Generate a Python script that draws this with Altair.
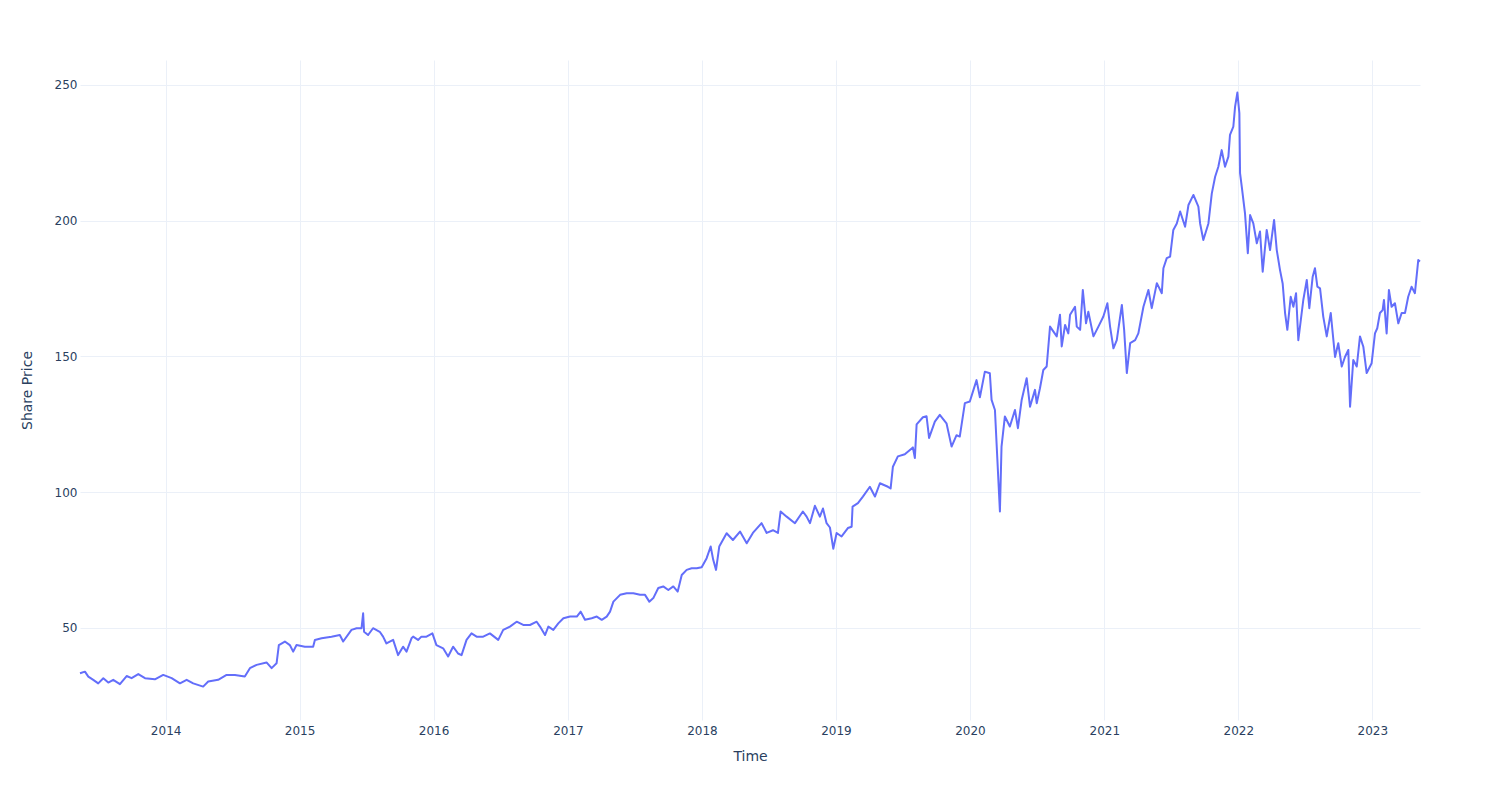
import altair as alt
import pandas as pd

# decimal-year positions
year_frac = [
    2013.361, 2013.398, 2013.423, 2013.460, 2013.497, 2013.535, 2013.572, 2013.609, 2013.659, 2013.709,
    2013.746, 2013.796, 2013.846, 2013.920, 2013.982, 2014.045, 2014.107, 2014.157, 2014.206, 2014.280,
    2014.318, 2014.392, 2014.455, 2014.517, 2014.591, 2014.629, 2014.679, 2014.753, 2014.791, 2014.828,
    2014.845, 2014.890, 2014.927, 2014.952, 2014.977, 2015.039, 2015.101, 2015.114, 2015.164, 2015.238,
    2015.300, 2015.325, 2015.387, 2015.425, 2015.462, 2015.474, 2015.481, 2015.511, 2015.548, 2015.598,
    2015.623, 2015.648, 2015.698, 2015.735, 2015.772, 2015.798, 2015.835, 2015.847, 2015.884, 2015.909,
    2015.947, 2015.991, 2016.021, 2016.071, 2016.108, 2016.145, 2016.182, 2016.208, 2016.245, 2016.282,
    2016.320, 2016.369, 2016.419, 2016.481, 2016.518, 2016.568, 2016.618, 2016.667, 2016.717, 2016.767,
    2016.792, 2016.829, 2016.854, 2016.891, 2016.928, 2016.966, 2017.016, 2017.066, 2017.095, 2017.127,
    2017.177, 2017.215, 2017.252, 2017.289, 2017.314, 2017.339, 2017.389, 2017.438, 2017.488, 2017.538,
    2017.575, 2017.607, 2017.637, 2017.674, 2017.711, 2017.749, 2017.786, 2017.819, 2017.849, 2017.886,
    2017.923, 2017.961, 2017.998, 2018.035, 2018.065, 2018.084, 2018.105, 2018.129, 2018.184, 2018.231,
    2018.284, 2018.334, 2018.380, 2018.445, 2018.483, 2018.530, 2018.567, 2018.587, 2018.632, 2018.694,
    2018.753, 2018.781, 2018.806, 2018.843, 2018.880, 2018.903, 2018.930, 2018.955, 2018.980, 2019.005,
    2019.042, 2019.089, 2019.117, 2019.124, 2019.164, 2019.201, 2019.253, 2019.291, 2019.328, 2019.388,
    2019.408, 2019.425, 2019.462, 2019.514, 2019.574, 2019.589, 2019.602, 2019.649, 2019.676, 2019.695,
    2019.738, 2019.775, 2019.825, 2019.863, 2019.900, 2019.924, 2019.962, 2019.999, 2020.049, 2020.074,
    2020.111, 2020.148, 2020.161, 2020.186, 2020.223, 2020.235, 2020.260, 2020.297, 2020.335, 2020.357,
    2020.385, 2020.422, 2020.447, 2020.484, 2020.497, 2020.521, 2020.546, 2020.571, 2020.596, 2020.646,
    2020.670, 2020.683, 2020.708, 2020.732, 2020.745, 2020.782, 2020.795, 2020.820, 2020.840, 2020.864,
    2020.881, 2020.919, 2020.956, 2020.993, 2021.023, 2021.043, 2021.068, 2021.093, 2021.131, 2021.148,
    2021.168, 2021.193, 2021.230, 2021.254, 2021.292, 2021.329, 2021.354, 2021.392, 2021.429, 2021.441,
    2021.466, 2021.491, 2021.515, 2021.541, 2021.566, 2021.603, 2021.628, 2021.665, 2021.702, 2021.715,
    2021.739, 2021.777, 2021.802, 2021.827, 2021.851, 2021.876, 2021.901, 2021.926, 2021.938, 2021.963,
    2021.976, 2021.993, 2022.008, 2022.013, 2022.026, 2022.050, 2022.071, 2022.088, 2022.112, 2022.138,
    2022.162, 2022.182, 2022.212, 2022.237, 2022.267, 2022.287, 2022.311, 2022.331, 2022.349, 2022.366,
    2022.391, 2022.411, 2022.431, 2022.448, 2022.485, 2022.511, 2022.530, 2022.555, 2022.572, 2022.590,
    2022.610, 2022.634, 2022.660, 2022.690, 2022.722, 2022.746, 2022.772, 2022.796, 2022.821, 2022.834,
    2022.858, 2022.884, 2022.908, 2022.933, 2022.958, 2022.995, 2023.020, 2023.037, 2023.057, 2023.077,
    2023.087, 2023.107, 2023.124, 2023.144, 2023.169, 2023.194, 2023.219, 2023.244, 2023.268, 2023.293,
    2023.318, 2023.343, 2023.356,
]

share_price = [
    33.3, 33.9, 32.1, 30.9, 29.6, 31.5, 29.9, 30.9, 29.3, 32.3,
    31.5, 33.0, 31.5, 31.1, 32.7, 31.5, 29.6, 30.9, 29.6, 28.4,
    30.3, 30.9, 32.7, 32.7, 32.1, 35.2, 36.4, 37.3, 35.2, 37.0,
    43.7, 45.0, 43.7, 41.3, 43.7, 43.1, 43.1, 45.6, 46.2, 46.8,
    47.4, 45.0, 49.3, 49.9, 49.9, 55.4, 48.6, 47.4, 49.9, 48.6,
    46.8, 44.3, 45.6, 40.0, 43.1, 41.3, 46.2, 46.8, 45.6, 46.8,
    46.8, 48.0, 43.7, 42.5, 39.5, 43.1, 40.6, 40.0, 45.6, 48.0,
    46.8, 46.8, 48.0, 45.6, 49.3, 50.5, 52.3, 51.1, 51.1, 52.3,
    50.5, 47.4, 50.5, 49.3, 51.7, 53.6, 54.2, 54.2, 56.0, 53.0,
    53.6, 54.2, 53.0, 54.2, 56.0, 59.7, 62.2, 62.8, 62.8, 62.2,
    62.2, 59.7, 61.0, 64.7, 65.3, 64.0, 65.3, 63.4, 69.5, 71.4,
    72.0, 72.0, 72.4, 75.7, 80.0, 75.1, 71.4, 80.0, 84.9, 82.4,
    85.5, 81.2, 85.0, 88.6, 85.0, 86.0, 85.0, 92.9, 91.0, 88.6,
    92.9, 91.0, 88.6, 95.0, 91.0, 94.0, 88.6, 87.0, 79.2, 85.0,
    83.7, 86.8, 87.3, 94.7, 96.0, 98.4, 102.0, 98.4, 103.3, 102.0,
    101.4, 109.4, 113.2, 114.0, 116.5, 112.6, 125.0, 127.6, 128.0, 120.0,
    126.0, 128.5, 125.4, 116.8, 121.0, 120.5, 132.8, 133.4, 141.3, 135.0,
    144.4, 143.8, 134.0, 130.3, 92.9, 116.8, 127.9, 124.2, 130.3, 123.6,
    134.0, 142.0, 131.5, 137.7, 132.8, 138.3, 145.0, 146.3, 161.0, 157.4,
    165.4, 153.7, 161.6, 158.5, 165.4, 168.3, 161.0, 159.8, 174.5, 162.2,
    166.5, 157.4, 161.0, 164.7, 169.6, 161.0, 153.0, 156.0, 169.0, 159.8,
    143.9, 154.9, 156.0, 158.5, 168.3, 174.5, 167.8, 177.0, 173.3, 182.5,
    186.2, 186.8, 196.6, 199.0, 203.4, 197.8, 205.8, 209.5, 205.2, 199.0,
    192.9, 199.0, 210.0, 216.2, 219.9, 226.0, 219.9, 223.6, 231.6, 234.7,
    242.0, 247.2, 239.6, 217.5, 212.5, 202.7, 188.0, 202.1, 199.0, 191.7,
    196.0, 181.2, 196.6, 189.2, 200.3, 189.2, 181.9, 176.9, 166.0, 159.8,
    172.0, 168.3, 173.3, 156.0, 170.8, 178.2, 167.8, 179.4, 182.5, 175.7,
    175.1, 164.7, 157.4, 166.0, 149.8, 154.9, 146.3, 149.8, 152.4, 131.5,
    148.7, 146.3, 157.4, 153.6, 143.9, 147.5, 158.5, 160.4, 166.0, 167.1,
    170.8, 158.5, 174.5, 168.3, 169.6, 162.2, 166.0, 166.0, 172.0, 175.7,
    173.3, 185.5, 185.0,
]

y_ticks = [50, 100, 150, 200, 250]


def frac_to_date(f):
    yr = int(f)
    start = pd.Timestamp(year=yr, month=1, day=1)
    end = pd.Timestamp(year=yr + 1, month=1, day=1)
    return start + (end - start) * (f - yr)


df = pd.DataFrame({
    "Time": [frac_to_date(f).strftime("%Y-%m-%dT%H:%M:%S") for f in year_frac],
    "Share Price": share_price,
})

FONT = "DejaVu Sans"
TXT = "#2a3f5f"
GRID = "#EBF0F8"

chart = (
    alt.Chart(df)
    .mark_line(color="#636efa", strokeWidth=2, strokeJoin="round")
    .encode(
        x=alt.X(
            "Time:T",
            title="Time",
            scale=alt.Scale(nice=False),
            axis=alt.Axis(
                format="%Y",
                tickCount=alt.TickCount(interval="year", step=1),
                grid=True,
                gridColor=GRID,
                gridWidth=1,
                domain=False,
                ticks=False,
                labelFont=FONT,
                labelFontSize=12,
                labelColor=TXT,
                labelPadding=5,
                titleFont=FONT,
                titleFontSize=14,
                titleFontWeight="normal",
                titleColor=TXT,
                titleX=670,
                titleY=36,
                titleBaseline="middle",
                titleAlign="center",
            ),
        ),
        y=alt.Y(
            "Share Price:Q",
            title="Share Price",
            scale=alt.Scale(domain=[16.1, 259.2], nice=False, zero=False),
            axis=alt.Axis(
                values=y_ticks,
                grid=True,
                gridColor=GRID,
                gridWidth=1,
                domain=False,
                ticks=False,
                labelFont=FONT,
                labelFontSize=12,
                labelColor=TXT,
                labelPadding=3,
                titleFont=FONT,
                titleFontSize=14,
                titleFontWeight="normal",
                titleColor=TXT,
                titleX=-53,
                titleY=330,
                titleAngle=270,
                titleBaseline="middle",
                titleAlign="center",
            ),
        ),
    )
    .properties(
        width=1340,
        height=660,
        autosize=alt.AutoSizeParams(type="none"),
        padding={"left": 80, "top": 60, "right": 80, "bottom": 80},
        background="white",
    )
    .configure_view(stroke=None)
)

chart.save("out.html", embed_options={"renderer": "svg", "actions": False})
